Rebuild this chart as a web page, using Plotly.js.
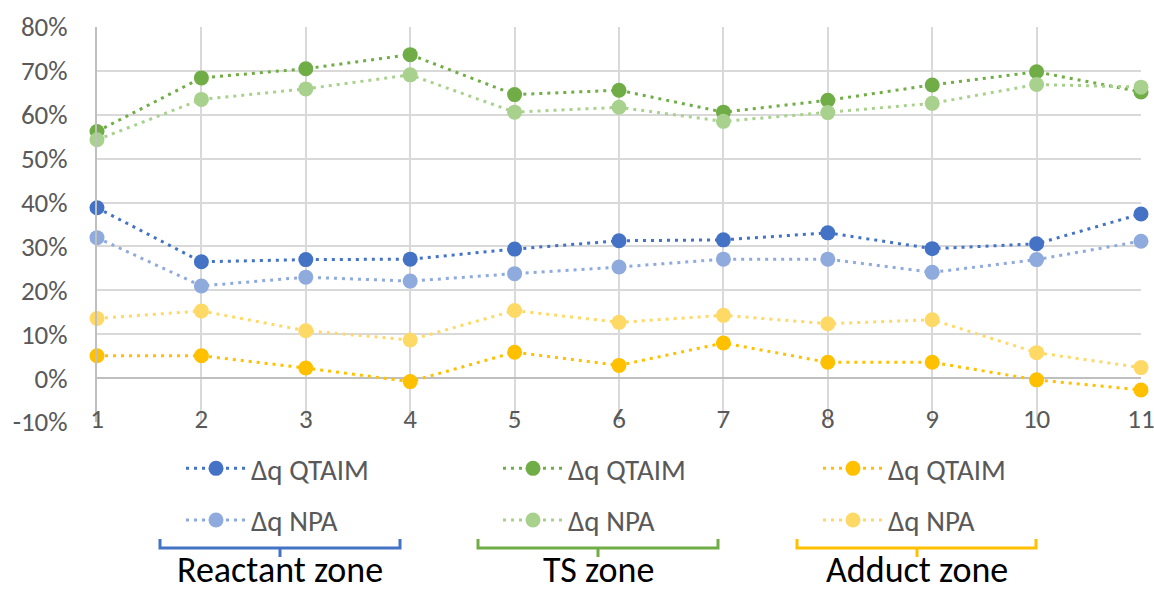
<!DOCTYPE html>
<html>
<head>
<meta charset="utf-8">
<script src="https://cdn.plot.ly/plotly-3.0.1.min.js"></script>
<style>html,body{margin:0;padding:0;background:#fff;}#chart{width:1154px;height:594px;}</style>
</head>
<body>
<div id="chart"></div>
<script>
// ---- data ----
const points = [1, 2, 3, 4, 5, 6, 7, 8, 9, 10, 11];
const reactantQTAIM = [0.388, 0.265, 0.270, 0.271, 0.294, 0.313, 0.315, 0.331, 0.295, 0.306, 0.374];
const reactantNPA   = [0.320, 0.210, 0.230, 0.221, 0.238, 0.253, 0.271, 0.271, 0.241, 0.270, 0.312];
const tsQTAIM       = [0.562, 0.684, 0.705, 0.737, 0.646, 0.656, 0.606, 0.633, 0.668, 0.698, 0.652];
const tsNPA         = [0.543, 0.635, 0.659, 0.691, 0.606, 0.617, 0.585, 0.605, 0.626, 0.669, 0.663];
const adductQTAIM   = [0.051, 0.051, 0.023, -0.008, 0.059, 0.029, 0.080, 0.036, 0.036, -0.004, -0.027];
const adductNPA     = [0.136, 0.153, 0.108, 0.087, 0.154, 0.127, 0.143, 0.124, 0.133, 0.058, 0.024];
const seriesNames = ["Δq QTAIM", "Δq NPA"];
const zoneLabels = ["Reactant zone", "TS zone", "Adduct zone"];
const yTickVals = [-0.1, 0, 0.1, 0.2, 0.3, 0.4, 0.5, 0.6, 0.7, 0.8];
const yTickText = ["-10%", "0%", "10%", "20%", "30%", "40%", "50%", "60%", "70%", "80%"];

// ---- style ----
const FONT = "Carlito, Calibri, Lato, sans-serif";
const W = 1154, H = 594, ML = 97, MR = 13, MT = 27, MB = 172;
const PW = W - ML - MR, PH = H - MT - MB;
const px2x = p => (p - ML) / PW;
const py2y = p => (H - MB - p) / PH;

function tr(y, name, color, legend, group) {
  return {
    x: points, y: y, name: name, type: "scatter", mode: "lines+markers",
    line: {color: color, width: 3, dash: "3px,5px"},
    marker: {color: color, size: 15},
    cliponaxis: false, legend: legend, legendgroup: group
  };
}
const data = [
  tr(reactantQTAIM, seriesNames[0], "#4472C4", "legend", "a"),
  tr(reactantNPA, seriesNames[1], "#8FAADC", "legend", "b"),
  tr(tsQTAIM, seriesNames[0], "#70AD47", "legend2", "c"),
  tr(tsNPA, seriesNames[1], "#A9D18E", "legend2", "d"),
  tr(adductQTAIM, seriesNames[0], "#FFC000", "legend3", "e"),
  tr(adductNPA, seriesNames[1], "#FFD966", "legend3", "f")
];

const legBase = {
  orientation: "v", yanchor: "top", xanchor: "left",
  font: {family: FONT, size: 29, color: "#595959"},
  bgcolor: "rgba(0,0,0,0)", tracegroupgap: 11, itemclick: false,
  itemwidth: 60
};
const legY = py2y(443);

// brackets
const zones = [
  {l: 160, r: 400, c: 280, color: "#4472C4"},
  {l: 478, r: 718, c: 598, color: "#70AD47"},
  {l: 797, r: 1036, c: 917, color: "#FFC000"}
];
const shapes = [];
const annotations = [];
zones.forEach((z, i) => {
  const yt = 539, yb = 548, yc = 557;
  const path = `M${px2x(z.l)},${py2y(yt)} L${px2x(z.l)},${py2y(yb)} L${px2x(z.r)},${py2y(yb)} L${px2x(z.r)},${py2y(yt)} M${px2x(z.c)},${py2y(yb)} L${px2x(z.c)},${py2y(yc)}`;
  shapes.push({type: "path", xref: "paper", yref: "paper", path: path,
    line: {color: z.color, width: 3}});
  annotations.push({xref: "paper", yref: "paper", x: px2x(z.c), y: py2y(594),
    xanchor: "center", yanchor: "bottom", showarrow: false, text: zoneLabels[i],
    font: {family: FONT, size: 36, color: "#000000"}});
});

const layout = {
  width: W, height: H,
  margin: {l: ML, r: MR, t: MT, b: MB},
  paper_bgcolor: "#ffffff", plot_bgcolor: "#ffffff",
  font: {family: FONT, color: "#595959"},
  xaxis: {
    range: [1, 11], tickvals: points, ticktext: points.map(String),
    showgrid: true, gridcolor: "#d9d9d9", gridwidth: 2,
    zeroline: false, showline: false,
    ticks: "", ticklabelstandoff: -22, ticklabeloverflow: "allow",
    tickfont: {family: FONT, size: 27, color: "#595959"}
  },
  yaxis: {
    range: [-0.1, 0.8], tickvals: yTickVals, ticktext: yTickText,
    showgrid: true, gridcolor: "#d9d9d9", gridwidth: 2,
    zeroline: true, zerolinecolor: "#bfbfbf", zerolinewidth: 2,
    showline: true, linecolor: "#bfbfbf", linewidth: 2,
    ticks: "", ticklabelstandoff: 22, ticklabeloverflow: "allow",
    tickfont: {family: FONT, size: 27, color: "#595959"}
  },
  legend: Object.assign({}, legBase, {x: px2x(181), y: legY}),
  legend2: Object.assign({}, legBase, {x: px2x(498), y: legY}),
  legend3: Object.assign({}, legBase, {x: px2x(818), y: legY}),
  shapes: shapes,
  annotations: annotations,
  showlegend: true
};

Plotly.newPlot("chart", data, layout, {staticPlot: true, displayModeBar: false});
</script>
</body>
</html>
